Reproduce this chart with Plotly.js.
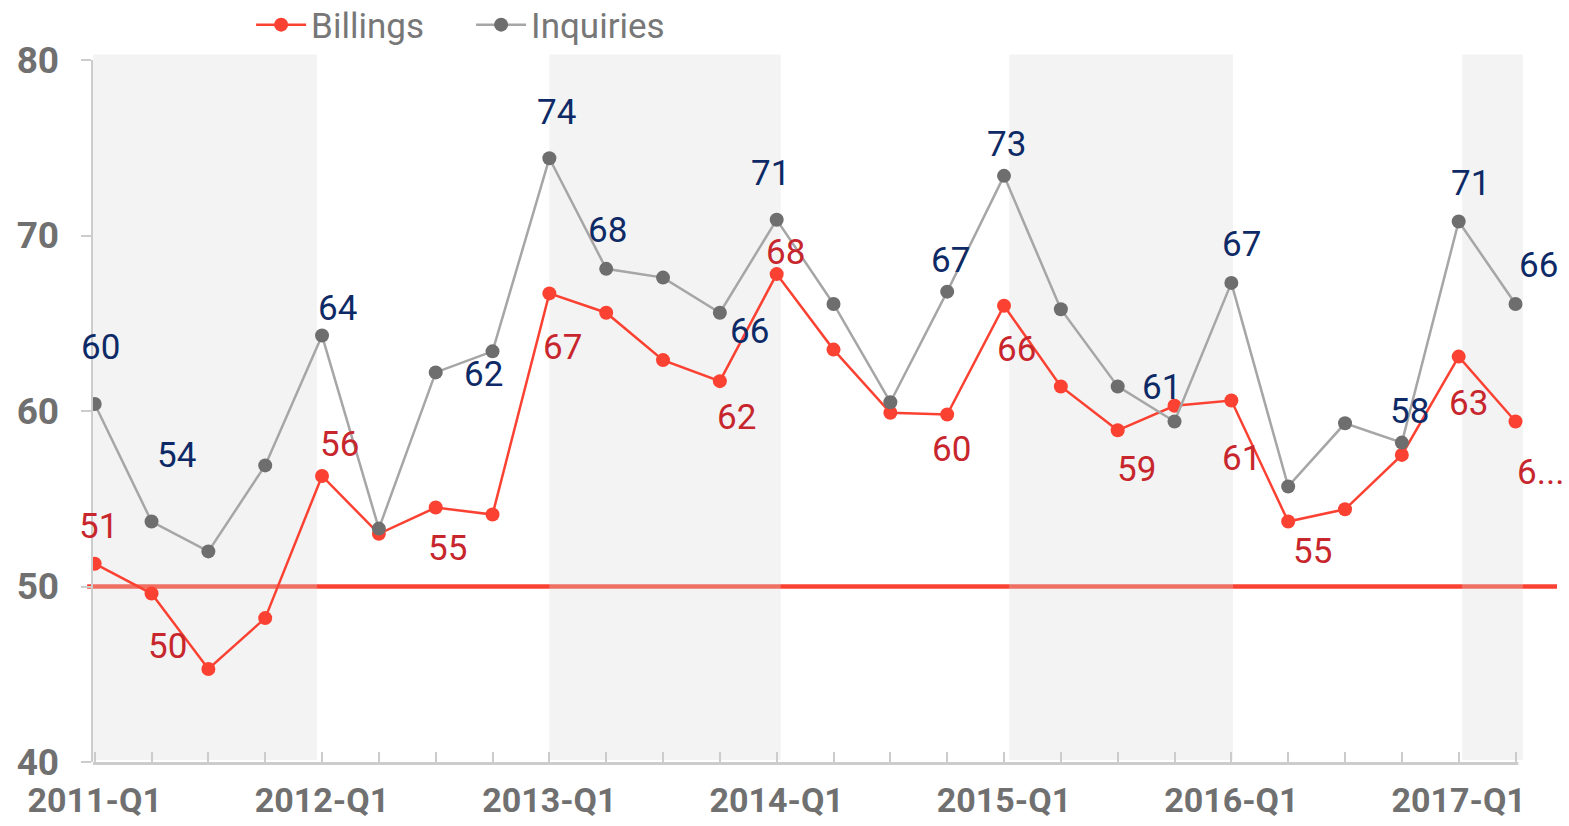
<!DOCTYPE html>
<html>
<head>
<meta charset="utf-8">
<script src="https://cdn.plot.ly/plotly-3.0.1.min.js"></script>
<style>
  html, body { margin: 0; padding: 0; background: #ffffff; }
  #chart { width: 1569px; height: 826px; }
</style>
</head>
<body>
<div id="chart"></div>
<script>
// ---- data ----
const quarters = [
  '2011-Q1','2011-Q2','2011-Q3','2011-Q4',
  '2012-Q1','2012-Q2','2012-Q3','2012-Q4',
  '2013-Q1','2013-Q2','2013-Q3','2013-Q4',
  '2014-Q1','2014-Q2','2014-Q3','2014-Q4',
  '2015-Q1','2015-Q2','2015-Q3','2015-Q4',
  '2016-Q1','2016-Q2','2016-Q3','2016-Q4',
  '2017-Q1','2017-Q2'
];
const billings = [51.3, 49.6, 45.3, 48.2, 56.3, 53.0, 54.5, 54.1, 66.7, 65.6, 62.9, 61.7, 67.8,
                  63.5, 59.9, 59.8, 66.0, 61.4, 58.9, 60.3, 60.6, 53.7, 54.4, 57.5, 63.1, 59.4];
const inquiries = [60.4, 53.7, 52.0, 56.9, 64.3, 53.3, 62.2, 63.4, 74.4, 68.1, 67.6, 65.6, 70.9,
                   66.1, 60.5, 66.8, 73.4, 65.8, 61.4, 59.4, 67.3, 55.7, 59.3, 58.2, 70.8, 66.1];
const billingsLabels = ['51','50',null,null,'56',null,'55',null,'67',null,null,'62','68',
                        null,null,'60','66',null,'59',null,'61','55',null,null,'63','6...'];
const inquiriesLabels = ['60','54',null,null,'64',null,'62',null,'74','68',null,'66','71',
                         null,null,'67','73',null,'61',null,'67',null,null,'58','71','66'];
const referenceLevel = 50;
// shaded periods (start, end quarter index)
const bandStarts = [-0.08, 8.0, 16.09, 24.06];
const bandEnds   = [3.91, 12.07, 20.03, 25.13];

// ---- style: label offsets in px [dx, dy] (dy positive = down) ----
const billOff = {0:[4,-37],1:[16,53],4:[17,-31],6:[12,41],8:[13,54],11:[17,36],12:[9,-22],
                 15:[4,35],16:[12,44],18:[19,39],20:[10,58],21:[24,30],24:[10,47],25:[25,51]};
const inqOff  = {0:[6,-56],1:[25,-66],4:[15,-27],6:[48,2],8:[7,-46],9:[1,-38],11:[30,19],
                 12:[-6,-46],15:[3,-31],16:[2,-31],18:[44,1],20:[10,-38],23:[8,-31],24:[12,-38],25:[23,-38]};

const xs = quarters.map((q, i) => i);
const RED = '#fb4232', GREY_LINE = '#a6a6a6', GREY_MK = '#6e6e6e';
const RED_TXT = '#c8262d', BLUE_TXT = '#0e2a66', AX = '#cccccc', TICK_TXT = '#707070';
const FONT = 'Roboto, "Liberation Sans", sans-serif';

const traces = [
  {
    type: 'scatter', mode: 'lines+markers', name: 'Billings', x: xs, y: billings,
    line: {color: RED, width: 2.5}, marker: {color: RED, size: 14},
    hoverinfo: 'skip'
  },
  {
    type: 'scatter', mode: 'lines+markers', name: 'Inquiries', x: xs, y: inquiries,
    line: {color: GREY_LINE, width: 2.5}, marker: {color: GREY_MK, size: 14},
    hoverinfo: 'skip'
  }
];

const annotations = [];
billingsLabels.forEach((t, i) => {
  if (t === null) return;
  const o = billOff[i] || [0, 30];
  annotations.push({x: xs[i], y: billings[i], xref: 'x', yref: 'y', text: t, showarrow: false,
    xshift: o[0], yshift: -o[1], font: {family: FONT, size: 35, color: RED_TXT}});
});
inquiriesLabels.forEach((t, i) => {
  if (t === null) return;
  const o = inqOff[i] || [0, -30];
  annotations.push({x: xs[i], y: inquiries[i], xref: 'x', yref: 'y', text: t, showarrow: false,
    xshift: o[0], yshift: -o[1], font: {family: FONT, size: 35, color: BLUE_TXT}});
});

const shapes = [];
// reference line at 50, extending over full width
shapes.push({type: 'line', xref: 'paper', yref: 'y', x0: -0.004, x1: 1, y0: referenceLevel, y1: referenceLevel,
  line: {color: RED, width: 4.5}, layer: 'below'});
// shaded bands (semi-transparent, over the reference line)
bandStarts.forEach((s, k) => {
  shapes.push({type: 'rect', xref: 'x', yref: 'paper', x0: s, x1: bandEnds[k], y0: 0.003, y1: 1.008,
    fillcolor: 'rgb(215,215,215)', opacity: 0.3, line: {width: 0}, layer: 'below'});
});
// x axis baseline
shapes.push({type: 'line', xref: 'x', yref: 'paper', x0: -0.1, x1: 25.05, y0: -0.002, y1: -0.002,
  line: {color: AX, width: 3}, layer: 'below'});

const layout = {
  width: 1569, height: 826,
  margin: {l: 93, r: 12, t: 60, b: 64, pad: 0, autoexpand: false},
  paper_bgcolor: '#ffffff', plot_bgcolor: 'rgba(0,0,0,0)',
  showlegend: true,
  legend: {orientation: 'h', x: 0.108, xanchor: 'left', y: 1.05, yanchor: 'middle',
    font: {family: FONT, size: 35, color: '#777777'}, itemwidth: 50,
    entrywidth: 155, entrywidthmode: 'pixels', bgcolor: 'rgba(0,0,0,0)'},
  xaxis: {
    type: 'linear', range: [-0.03, 25.73], showgrid: false, zeroline: false, showline: false,
    tickmode: 'array', tickvals: xs, ticktext: quarters.map((q, i) => (i % 4 === 0 ? q : '')),
    ticks: 'inside', ticklen: 10, tickwidth: 2, tickcolor: AX,
    tickfont: {family: FONT, size: 34, color: TICK_TXT, weight: 'bold'},
    ticklabelstandoff: 15, fixedrange: true
  },
  yaxis: {
    range: [40, 80], showgrid: false, zeroline: false, showline: true, linecolor: AX, linewidth: 2.5,
    tickmode: 'array', tickvals: [40, 50, 60, 70, 80],
    ticks: 'outside', ticklen: 10, tickwidth: 2, tickcolor: AX,
    tickfont: {family: FONT, size: 37, color: TICK_TXT, weight: 'bold'},
    ticklabelstandoff: 14, fixedrange: true
  },
  shapes: shapes,
  annotations: annotations
};

Plotly.newPlot('chart', traces, layout, {displayModeBar: false, staticPlot: true});
</script>
</body>
</html>
